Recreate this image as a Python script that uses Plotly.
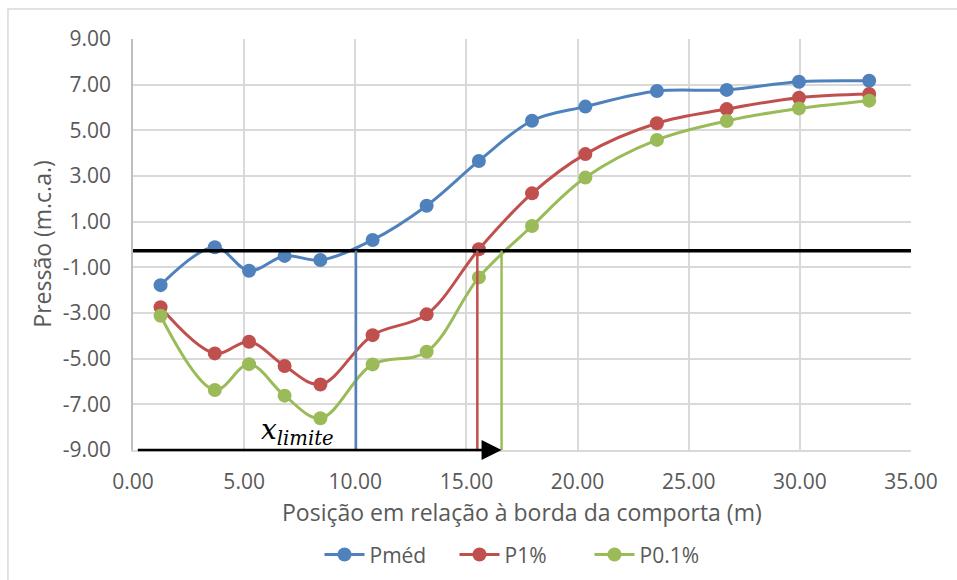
import plotly.graph_objects as go

# ---- data ----
posicao = [1.24, 3.68, 5.22, 6.82, 8.43, 10.78, 13.21, 15.56, 17.95, 20.35, 23.57, 26.71, 29.96, 33.12]
p_med = [-1.78, -0.12, -1.15, -0.50, -0.68, 0.20, 1.70, 3.66, 5.42, 6.04, 6.72, 6.77, 7.13, 7.17]
p_1 = [-2.75, -4.77, -4.26, -5.32, -6.13, -3.97, -3.06, -0.21, 2.24, 3.96, 5.31, 5.93, 6.43, 6.59]
p_01 = [-3.12, -6.37, -5.24, -6.62, -7.61, -5.25, -4.70, -1.44, 0.81, 2.93, 4.58, 5.41, 5.96, 6.30]
series_names = ["Pméd", "P1%", "P0.1%"]
colors = ["#4F81BD", "#C0504D", "#9BBB59"]

limite_pressao = -0.27                 # horizontal reference line
x_limites = [10.03, 15.49, 16.58]      # crossing positions for each series
arrow_start = 0.15
y_ticks = [9, 7, 5, 3, 1, -1, -3, -5, -7, -9]
x_ticks = [0, 5, 10, 15, 20, 25, 30, 35]

FONT = "Open Sans"
TXT = "#595959"
GRID = "#d9d9d9"

fig = go.Figure()
for name, vals, c in zip(series_names, [p_med, p_1, p_01], colors):
    fig.add_trace(go.Scatter(
        x=posicao, y=vals, name=name, mode="lines+markers",
        line=dict(color=c, width=3, shape="spline", smoothing=1.0),
        marker=dict(color=c, size=14),
        cliponaxis=False,
    ))

# horizontal threshold line
fig.add_shape(type="line", xref="x", yref="y", x0=0, x1=35,
              y0=limite_pressao, y1=limite_pressao,
              line=dict(color="black", width=3.5), layer="above")
# vertical lines
for xv, c in zip(x_limites, colors):
    fig.add_shape(type="line", xref="x", yref="y", x0=xv, x1=xv,
                  y0=limite_pressao, y1=-9, line=dict(color=c, width=2.5),
                  layer="above")

# arrow
fig.add_annotation(x=x_limites[2], y=-9, ax=arrow_start, ay=-9,
                   xref="x", yref="y", axref="x", ayref="y",
                   text="", showarrow=True, arrowhead=2, arrowsize=1.6,
                   arrowwidth=2.5, arrowcolor="black")
fig.add_annotation(x=7.4, y=-9, xref="x", yref="y", xanchor="center",
                   yanchor="bottom", yshift=-2, showarrow=False,
                   text="<i>x</i><sub><i>limite</i></sub>",
                   font=dict(family="DejaVu Serif", size=28, color="black"))

# axis titles
fig.add_annotation(x=0.5, y=-0.151, xref="paper", yref="paper",
                   xanchor="center", yanchor="middle", showarrow=False,
                   text="Posição em relação à borda da comporta (m)",
                   font=dict(family=FONT, size=23, color=TXT))
fig.add_annotation(x=-0.118, y=0.5, xref="paper", yref="paper",
                   xanchor="center", yanchor="middle", showarrow=False,
                   textangle=-90, text="Pressão (m.c.a.)",
                   font=dict(family=FONT, size=23, color=TXT))

# outer chart border (only top and left visible in the frame)
fig.add_shape(type="rect", xref="paper", yref="paper",
              x0=-0.1607, x1=1.1, y0=-0.4, y1=1.073,
              line=dict(color=GRID, width=1.5), layer="below")

fig.update_layout(
    width=957, height=580,
    margin=dict(l=133, r=46, t=39, b=130, autoexpand=False),
    paper_bgcolor="white", plot_bgcolor="white",
    font=dict(family=FONT, color=TXT),
    showlegend=True,
    legend=dict(orientation="h", x=0.5, xanchor="center", y=-0.255,
                yanchor="middle", font=dict(family=FONT, size=21, color=TXT),
                entrywidth=80, entrywidthmode="pixels", itemwidth=40),
)
fig.update_xaxes(range=[0, 35], tickvals=x_ticks,
                 ticktext=[f"{v:.2f}" for v in x_ticks],
                 showgrid=True, gridcolor=GRID, gridwidth=1.5,
                 showline=True, linecolor=GRID, linewidth=1.5, mirror=False,
                 zeroline=False, ticks="", ticklabelstandoff=12, automargin=False,
                 tickfont=dict(family=FONT, size=21, color=TXT))
fig.update_yaxes(range=[-9, 9], tickvals=y_ticks,
                 ticktext=[f"{v:.2f}" for v in y_ticks],
                 showgrid=True, gridcolor=GRID, gridwidth=1.5,
                 showline=True, linecolor="#bfbfbf", linewidth=1.5,
                 zeroline=False, ticks="", ticklabelstandoff=16, automargin=False,
                 tickfont=dict(family=FONT, size=21, color=TXT))

fig.write_html("out.html")
